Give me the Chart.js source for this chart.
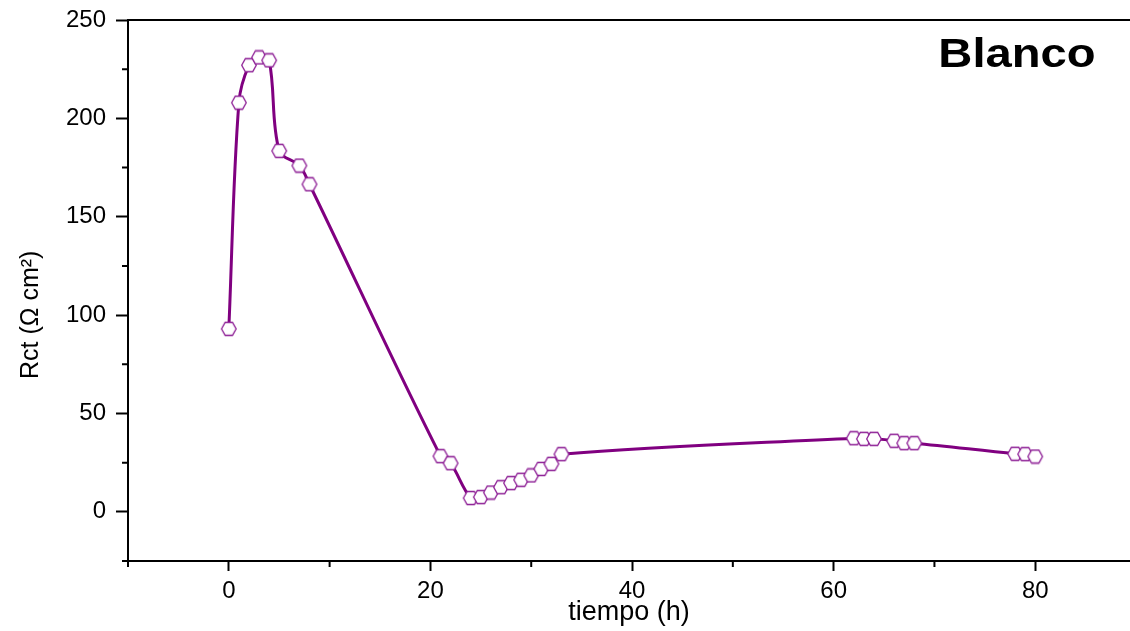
<!DOCTYPE html>
<html lang="es">
<head>
  <meta charset="UTF-8" />
  <title>Blanco - Rct vs tiempo</title>
  <script src="https://cdn.jsdelivr.net/npm/chart.js"></script>
  <style>
    * { margin: 0; padding: 0; box-sizing: border-box; }
    html, body { background: #fff; width: 1130px; height: 631px; overflow: hidden; }
    #rctChart { display: block; }
  </style>
</head>
<body>
  <!-- a bit wider than the window: the right end of the frame runs off the edge, as in the original -->
  <canvas id="rctChart" width="1140" height="631"></canvas>

  <script>
    // data
    const hours = [0, 1, 2, 3, 4, 5, 7, 8, 21, 22, 24, 25, 26, 27, 28, 29, 30, 31, 32, 33,
                   62, 63, 64, 66, 67, 68, 78, 79, 80];
    const rct = [93, 208, 227, 231, 229.5, 183.5, 176, 166.5, 28.3, 24.7, 7, 7.5, 9.8, 12.5, 14.6,
                 16.3, 18.5, 21.8, 24.4, 29.3, 37.4, 37.1, 37.1, 36.1, 34.9, 34.9, 29.5, 29.3, 28.1];

    const xTicks = [0, 20, 40, 60, 80];
    const xMinor = [-10, 10, 30, 50, 70];
    const yTicks = [0, 50, 100, 150, 200, 250];
    const yMinor = [-25, 25, 75, 125, 175, 225];

    const FONT = "'Liberation Sans', Arial, sans-serif";

    // hexagon marker (open, white fill)
    function hexMarker() {
      const c = document.createElement('canvas');
      c.width = 18; c.height = 16;
      const g = c.getContext('2d');
      const cx = 9, cy = 8, rx = 7.3, ry = 6.5;
      g.beginPath();
      g.moveTo(cx - rx, cy);
      g.lineTo(cx - rx / 2, cy - ry);
      g.lineTo(cx + rx / 2, cy - ry);
      g.lineTo(cx + rx, cy);
      g.lineTo(cx + rx / 2, cy + ry);
      g.lineTo(cx - rx / 2, cy + ry);
      g.closePath();
      g.fillStyle = '#fff';
      g.fill();
      g.lineWidth = 1.3;
      g.strokeStyle = '#8c1c94';
      g.stroke();
      return c;
    }

    // minor ticks, top frame line and the "Blanco" label
    const frame = {
      id: 'frame',
      afterDraw(chart) {
        const ctx = chart.ctx;
        const area = chart.chartArea;
        const xs = chart.scales.x, ys = chart.scales.y;
        ctx.save();
        ctx.strokeStyle = '#000';
        ctx.lineWidth = 2;
        ctx.beginPath();
        ctx.moveTo(area.left, area.top);
        ctx.lineTo(area.right, area.top);
        xMinor.forEach(v => {
          const px = xs.getPixelForValue(v);
          ctx.moveTo(px, area.bottom);
          ctx.lineTo(px, area.bottom + 6);
        });
        yMinor.forEach(v => {
          const py = ys.getPixelForValue(v);
          ctx.moveTo(area.left, py);
          ctx.lineTo(area.left - 6, py);
        });
        ctx.stroke();

        ctx.fillStyle = '#000';
        ctx.font = "bold 40px " + FONT;
        ctx.textAlign = 'center';
        ctx.textBaseline = 'middle';
        ctx.translate(area.right - 113, area.top + 36);
        ctx.scale(1.18, 1);
        ctx.fillText('Blanco', 0, 0);
        ctx.restore();
      }
    };

    new Chart(document.getElementById('rctChart'), {
      type: 'line',
      data: {
        datasets: [{
          label: 'Blanco',
          data: hours.map((h, i) => ({ x: h, y: rct[i] })),
          borderColor: '#800080',
          borderWidth: 3,
          tension: 0.35,
          pointStyle: hexMarker(),
          pointRadius: 7,
          fill: false
        }]
      },
      options: {
        responsive: false,
        animation: false,
        devicePixelRatio: 1,
        layout: { padding: { top: 20, right: 0, bottom: 0, left: 0 } },
        plugins: {
          legend: { display: false },
          tooltip: { enabled: false }
        },
        scales: {
          x: {
            type: 'linear',
            min: -10,
            max: 89.4,
            afterBuildTicks: s => { s.ticks = xTicks.map(v => ({ value: v })); },
            afterFit: s => { s.height = 70; },
            grid: { drawOnChartArea: false, drawTicks: true, tickLength: 10, tickWidth: 2, tickColor: '#000' },
            border: { display: true, color: '#000', width: 2 },
            ticks: { color: '#000', font: { family: FONT, size: 24 }, padding: 6, maxRotation: 0 },
            title: {
              display: true, text: 'tiempo (h)', color: '#000',
              font: { family: FONT, size: 27 }, padding: { top: 0, bottom: 2 }
            }
          },
          y: {
            min: -25,
            max: 250,
            afterBuildTicks: s => { s.ticks = yTicks.map(v => ({ value: v })); },
            afterFit: s => { s.width = 128; },
            grid: { drawOnChartArea: false, drawTicks: true, tickLength: 12, tickWidth: 2, tickColor: '#000' },
            border: { display: true, color: '#000', width: 2 },
            ticks: { color: '#000', font: { family: FONT, size: 24, lineHeight: 0.8 }, padding: 10 },
            title: {
              display: true, text: 'Rct (\u03A9 cm\u00B2)       ', color: '#000',
              font: { family: FONT, size: 25 }, padding: { top: 16, bottom: 6 }
            }
          }
        }
      },
      plugins: [frame]
    });
  </script>
</body>
</html>
